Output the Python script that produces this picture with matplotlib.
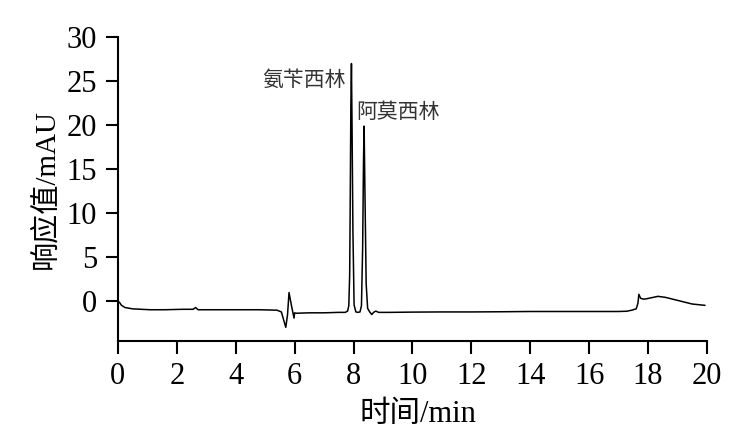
import matplotlib
matplotlib.use("Agg")
import matplotlib.pyplot as plt

plt.rcParams['font.family'] = ['Liberation Serif', 'Noto Sans CJK SC', 'DejaVu Sans']
plt.rcParams['axes.unicode_minus'] = False

# chromatogram trace (time in min, response in mAU)
time = [0.00, 0.05, 0.12, 0.24, 0.50, 1.09, 1.60, 2.20, 2.55, 2.64, 2.72, 3.20, 4.00, 4.80,
        5.40, 5.55, 5.70, 5.76, 5.81, 5.90, 5.98, 6.00, 6.05, 6.50, 7.00, 7.50, 7.72,
        7.80, 7.84, 7.87, 7.89, 7.91, 7.93, 7.95, 7.98, 8.02, 8.08,
        8.15, 8.22, 8.27, 8.31, 8.34, 8.36, 8.39, 8.43, 8.48, 8.55,
        8.62, 8.68, 8.76, 8.85, 9.20, 10.0, 11.0, 12.0, 13.0, 14.0, 15.0, 16.0, 17.0,
        17.28, 17.45, 17.60, 17.66, 17.69, 17.75, 17.85, 17.96, 18.10, 18.34,
        18.60, 18.90, 19.20, 19.50, 19.93]
signal = [0.00, -0.10, -0.45, -0.70, -0.85, -0.95, -0.95, -0.90, -0.90, -0.70, -0.95, -0.95, -0.95, -0.95,
          -1.00, -1.20, -2.95, -1.50, 1.00, -0.60, -1.90, -1.30, -1.35, -1.30, -1.30, -1.25, -1.25,
          -1.10, -0.50, 3.0, 12.0, 22.0, 27.0, 20.0, 8.0, -0.40, -1.20,
          -1.25, -1.20, -0.50, 6.0, 16.0, 19.9, 12.0, 2.0, -0.80, -1.20,
          -1.50, -1.25, -1.10, -1.25, -1.25, -1.22, -1.20, -1.20, -1.18, -1.15, -1.15, -1.15, -1.15,
          -1.12, -1.00, -0.85, -0.20, 0.80, 0.35, 0.25, 0.30, 0.40, 0.57,
          0.45, 0.20, -0.05, -0.30, -0.45]

peak_names = ['氨苄西林', '阿莫西林']
peak_label_x = [7.73, 8.08]
peak_label_y = [25.2, 21.5]
peak_label_ha = ['right', 'left']

fig = plt.figure(figsize=(7.56, 4.42), dpi=100)
ax = fig.add_axes([0.156, 0.2285, 0.779, 0.6875])

ax.plot(time, signal, color='black', linewidth=1.1)

for name, lx, ly, ha in zip(peak_names, peak_label_x, peak_label_y, peak_label_ha):
    ax.text(lx, ly, name, ha=ha, va='center', fontsize=15, color='#333333',
            family=['Noto Sans CJK SC', 'DejaVu Sans'])

ax.set_xlim(0, 20)
ax.set_ylim(-4.5, 30)
ax.set_xticks(range(0, 21, 2))
ax.set_yticks(range(0, 31, 5))

for side in ['top', 'right']:
    ax.spines[side].set_visible(False)
for side in ['left', 'bottom']:
    ax.spines[side].set_linewidth(1.5)

ax.tick_params(direction='out', length=9, width=1.5, labelsize=22, pad=6)

ax.set_xlabel('时间/min', fontsize=22)
ax.xaxis.set_label_coords(0.51, -0.195)
ax.set_ylabel('响应值/mAU', fontsize=21)
ax.yaxis.set_label_coords(-0.099, 0.5)

fig.savefig('out.png', dpi=100)
